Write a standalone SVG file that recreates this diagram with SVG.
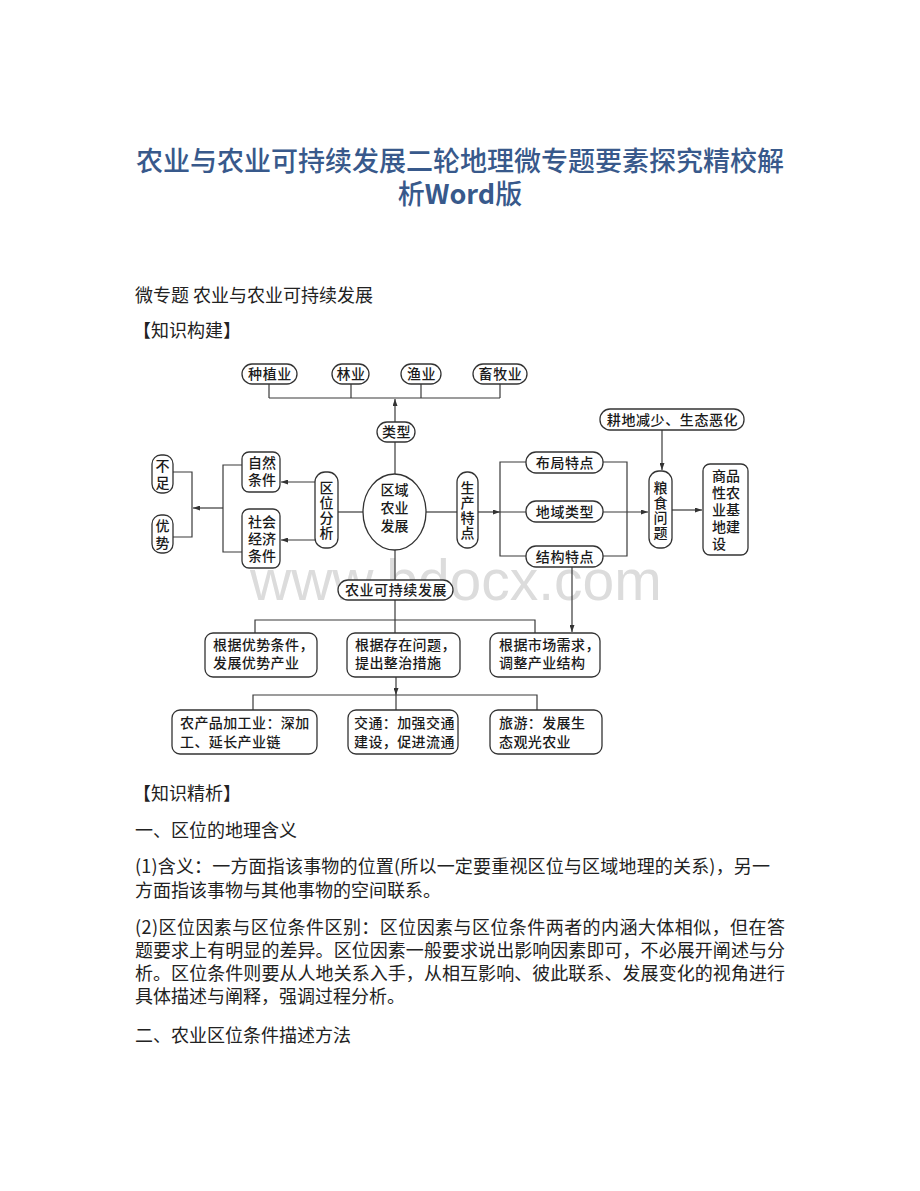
<svg xmlns="http://www.w3.org/2000/svg" width="920" height="1191" viewBox="0 0 920 1191">
<style>
.title{font-family:"Noto Sans CJK SC","Liberation Sans",sans-serif;font-size:27px;fill:#38598b;font-weight:500}
.body{font-family:"Noto Sans CJK SC","Liberation Sans",sans-serif;font-size:18px;fill:#222}
.t{font-family:"Noto Sans CJK SC",sans-serif;font-size:14px;fill:#1a1a1a;font-weight:500}
.c{text-anchor:middle;letter-spacing:0.6px}
.box{fill:#fff;stroke:#333;stroke-width:1.3}
.ln{fill:none;stroke:#3a3a3a;stroke-width:1.2}
.ar{marker-end:url(#ah)}
.wm{font-family:"Liberation Sans",sans-serif;font-size:57px;fill:#dcdcdc}
</style>
<defs>
<marker id="ah" markerWidth="7" markerHeight="5" refX="7" refY="2.5" orient="auto" markerUnits="userSpaceOnUse">
<path d="M0,0 L7,2.5 L0,5 z" fill="#333"/>
</marker>
</defs>
<rect width="920" height="1191" fill="#fff"/>

<g id="header">
<text class="title" x="460" y="171" text-anchor="middle">农业与农业可持续发展二轮地理微专题要素探究精校解</text>
<text class="title" x="460" y="204" text-anchor="middle">析<tspan font-weight="bold">Word</tspan>版</text>
<text class="body" x="135" y="302">微专题 农业与农业可持续发展</text>
<text class="body" x="133" y="337">【知识构建】</text>
</g>

<text class="wm" x="250" y="600">www.bdocx.com</text>

<g id="connectors">
<path class="ln" d="M269,384 V398 M351,384 V398 M421,384 V398 M500,384 V398 M269,398 H500"/>
<path class="ln ar" d="M395,422 V399"/>
<path class="ln" d="M395,442 V474"/>
<path class="ln" d="M338,512 H363"/>
<path class="ln ar" d="M315,482 H281"/>
<path class="ln ar" d="M315,540 H281"/>
<path class="ln" d="M242,465 H223 V552 H242"/>
<path class="ln ar" d="M223,508 H193"/>
<path class="ln" d="M173,472 H192 V537 H173"/>
<path class="ln" d="M426,512 H457"/>
<path class="ln ar" d="M478,512 H500"/>
<path class="ln" d="M526,462 H500 V556 H526 M500,512 H526"/>
<path class="ln" d="M603,462 H627 V556 H603"/>
<path class="ln ar" d="M603,512 H648"/>
<path class="ln ar" d="M662,430 V470"/>
<path class="ln ar" d="M672,510 H702"/>
<path class="ln ar" d="M572,567 V632"/>
<path class="ln" d="M395,550 V580"/>
<path class="ln" d="M395,600 V633 M255,633 V620 H535 V633"/>
<path class="ln ar" d="M396,677 V695"/>
<path class="ln" d="M253,710 V695 H537 V710 M396,695 V710"/>
</g>

<g id="n-zhongzhi"><rect class="box" x="242" y="364" width="55" height="20" rx="10"/><text class="t c" x="270" y="379.3">种植业</text></g>
<g id="n-linye"><rect class="box" x="332" y="364" width="37" height="20" rx="10"/><text class="t c" x="351" y="379.3">林业</text></g>
<g id="n-yuye"><rect class="box" x="401" y="364" width="40" height="20" rx="10"/><text class="t c" x="421.5" y="379.3">渔业</text></g>
<g id="n-xumu"><rect class="box" x="473" y="364" width="54" height="20" rx="10"/><text class="t c" x="500.5" y="379.3">畜牧业</text></g>
<g id="n-leixing"><rect class="box" x="377" y="422" width="38" height="20" rx="10"/><text class="t c" x="396.5" y="437.3">类型</text></g>

<g id="n-quyu"><ellipse class="box" cx="394.5" cy="512" rx="31.5" ry="38"/>
<text class="t" text-anchor="middle"><tspan x="394.5" y="495.3">区域</tspan><tspan x="394.5" y="513.3">农业</tspan><tspan x="394.5" y="531.3">发展</tspan></text></g>

<g id="n-quwei"><rect class="box" x="315" y="472" width="23" height="76" rx="10"/>
<text class="t" text-anchor="middle"><tspan x="326.5" y="493.3">区</tspan><tspan x="326.5" y="508.3">位</tspan><tspan x="326.5" y="523.3">分</tspan><tspan x="326.5" y="538.3">析</tspan></text></g>

<g id="n-ziran"><rect class="box" x="242" y="452" width="38" height="40" rx="7"/>
<text class="t" text-anchor="middle"><tspan x="262" y="468.3">自然</tspan><tspan x="262" y="485.3">条件</tspan></text></g>
<g id="n-shehui"><rect class="box" x="242" y="509" width="38" height="59" rx="7"/>
<text class="t" text-anchor="middle"><tspan x="262" y="526.8">社会</tspan><tspan x="262" y="543.8">经济</tspan><tspan x="262" y="560.8">条件</tspan></text></g>

<g id="n-buzu"><rect class="box" x="152" y="455" width="21" height="38" rx="9"/>
<text class="t" text-anchor="middle"><tspan x="162.5" y="471">不</tspan><tspan x="162.5" y="488">足</tspan></text></g>
<g id="n-youshi"><rect class="box" x="152" y="515" width="21" height="38" rx="9"/>
<text class="t" text-anchor="middle"><tspan x="162.5" y="531">优</tspan><tspan x="162.5" y="548">势</tspan></text></g>

<g id="n-shengchan"><rect class="box" x="457" y="472" width="21" height="76" rx="10"/>
<text class="t" text-anchor="middle"><tspan x="467.5" y="493.3">生</tspan><tspan x="467.5" y="508.3">产</tspan><tspan x="467.5" y="523.3">特</tspan><tspan x="467.5" y="538.3">点</tspan></text></g>

<g id="n-buju"><rect class="box" x="526" y="452" width="77" height="21" rx="10"/><text class="t c" x="565" y="467.8">布局特点</text></g>
<g id="n-diyu"><rect class="box" x="526" y="501" width="77" height="21" rx="10"/><text class="t c" x="565" y="516.8">地域类型</text></g>
<g id="n-jiegou"><rect class="box" x="526" y="546" width="77" height="21" rx="10"/><text class="t c" x="565" y="561.8">结构特点</text></g>

<g id="n-gengdi"><rect class="box" x="600" y="409" width="144" height="21" rx="10"/><text class="t c" x="672.5" y="424.8">耕地减少、生态恶化</text></g>

<g id="n-liangshi"><rect class="box" x="649" y="471" width="23" height="77" rx="10"/>
<text class="t" text-anchor="middle"><tspan x="660.5" y="493.3">粮</tspan><tspan x="660.5" y="508.3">食</tspan><tspan x="660.5" y="523.3">问</tspan><tspan x="660.5" y="538.3">题</tspan></text></g>

<g id="n-shangpin"><rect class="box" x="703" y="464" width="45" height="91" rx="7"/>
<text class="t"><tspan x="712" y="480.8">商品</tspan><tspan x="712" y="497.8">性农</tspan><tspan x="712" y="514.8">业基</tspan><tspan x="712" y="531.8">地建</tspan><tspan x="712" y="548.8">设</tspan></text></g>

<g id="n-kechixu"><rect class="box" x="338" y="580" width="115" height="20" rx="10"/><text class="t c" x="396" y="595.3">农业可持续发展</text></g>

<g id="n-youshitiaojian"><rect class="box" x="205" y="633" width="112" height="44" rx="8"/>
<text class="t" letter-spacing="0.4"><tspan x="213" y="650">根据优势条件，</tspan><tspan x="213" y="668">发展优势产业</tspan></text></g>
<g id="n-wenti"><rect class="box" x="347" y="633" width="113" height="44" rx="8"/>
<text class="t" letter-spacing="0.4"><tspan x="355" y="650">根据存在问题，</tspan><tspan x="355" y="668">提出整治措施</tspan></text></g>
<g id="n-shichang"><rect class="box" x="490" y="633" width="110" height="44" rx="8"/>
<text class="t" letter-spacing="0.4"><tspan x="499" y="650">根据市场需求，</tspan><tspan x="499" y="668">调整产业结构</tspan></text></g>

<g id="n-jiagong"><rect class="box" x="172" y="710" width="145" height="44" rx="8"/>
<text class="t" letter-spacing="0.4"><tspan x="180" y="728">农产品加工业：深加</tspan><tspan x="180" y="747">工、延长产业链</tspan></text></g>
<g id="n-jiaotong"><rect class="box" x="348" y="710" width="110" height="44" rx="8"/>
<text class="t" letter-spacing="0.4"><tspan x="354" y="728">交通：加强交通</tspan><tspan x="354" y="747">建设，促进流通</tspan></text></g>
<g id="n-lvyou"><rect class="box" x="490" y="710" width="112" height="44" rx="8"/>
<text class="t" letter-spacing="0.4"><tspan x="499" y="728">旅游：发展生</tspan><tspan x="499" y="747">态观光农业</tspan></text></g>

<g id="body">
<text class="body" x="133" y="800">【知识精析】</text>
<text class="body" x="135" y="837">一、区位的地理含义</text>
<text class="body" x="135" y="873" textLength="635" lengthAdjust="spacing">(1)含义：一方面指该事物的位置(所以一定要重视区位与区域地理的关系)，另一</text>
<text class="body" x="135" y="897">方面指该事物与其他事物的空间联系。</text>
<text class="body" x="135" y="934" textLength="650" lengthAdjust="spacing">(2)区位因素与区位条件区别：区位因素与区位条件两者的内涵大体相似，但在答</text>
<text class="body" x="135" y="957" textLength="650" lengthAdjust="spacing">题要求上有明显的差异。区位因素一般要求说出影响因素即可，不必展开阐述与分</text>
<text class="body" x="135" y="980" textLength="650" lengthAdjust="spacing">析。区位条件则要从人地关系入手，从相互影响、彼此联系、发展变化的视角进行</text>
<text class="body" x="135" y="1003">具体描述与阐释，强调过程分析。</text>
<text class="body" x="135" y="1042">二、农业区位条件描述方法</text>
</g>
</svg>
